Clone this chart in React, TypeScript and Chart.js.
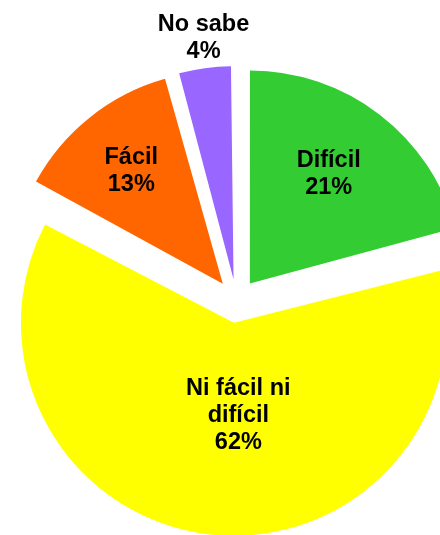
import React, { useEffect, useRef } from "react";
import { Chart, registerables } from "chart.js";

Chart.register(...registerables);

const categories = ["Difícil", "Ni fácil ni difícil", "Fácil", "No sabe"];
const labelLines = [["Difícil"], ["Ni fácil ni", "difícil"], ["Fácil"], ["No sabe"]];
// slice sizes (shares of the circle, %)
const sliceValues = [20.8, 62.1, 12.8, 4.3];
// percentages printed on the chart
const percentLabels = ["21%", "62%", "13%", "4%"];
const colors = ["#33CC33", "#FFFF00", "#FF6600", "#9966FF"];

const FONT_FAMILY = '"Liberation Sans", Arial, Helvetica, sans-serif';

// Keep every exploded slice at the same radius (Chart.js enlarges wide slices by their offset)
const equalRadiusPlugin = {
  id: "equalRadius",
  beforeDatasetsDraw(chart: any) {
    const meta = chart.getDatasetMeta(0);
    const base = meta.controller.outerRadius;
    meta.data.forEach((arc: any) => {
      const off = (arc.options.offset || 0) / 4;
      const c = arc.circumference;
      const fix = 1 - Math.sin(Math.min(Math.PI, c || 0));
      arc.outerRadius = base - off * fix;
    });
  },
};

const sliceLabelPlugin = {
  id: "sliceLabels",
  afterDatasetsDraw(chart: any, _args: any, opts: any) {
    const ctx = chart.ctx;
    const meta = chart.getDatasetMeta(0);
    const R = meta.controller.outerRadius;
    ctx.save();
    ctx.font = `bold ${opts.size}px ${FONT_FAMILY}`;
    ctx.fillStyle = "#000000";
    ctx.textAlign = "center";
    ctx.textBaseline = "alphabetic";
    meta.data.forEach((arc: any, i: number) => {
      const mid = (arc.startAngle + arc.endAngle) / 2;
      const off = (arc.options.offset || 0) / 4;
      const p = opts.placement[i];
      const d = off + R * p.r;
      const cx = arc.x + Math.cos(mid) * d + p.dx;
      const cy = arc.y + Math.sin(mid) * d + p.dy;
      const lines = [...labelLines[i], percentLabels[i]];
      const capH = opts.size * 0.716;
      const first = cy - ((lines.length - 1) * opts.lineHeight) / 2 + capH / 2;
      lines.forEach((t: string, k: number) => {
        ctx.fillText(t, cx, first + k * opts.lineHeight);
      });
    });
    ctx.restore();
  },
};

export default function App() {
  const canvasRef = useRef<HTMLCanvasElement | null>(null);

  useEffect(() => {
    const canvas = canvasRef.current;
    if (!canvas) return;
    const chart = new Chart(canvas, {
      type: "pie",
      data: {
        labels: categories,
        datasets: [
          {
            data: sliceValues,
            backgroundColor: colors,
            borderWidth: 0,
            offset: 88,
          },
        ],
      },
      options: {
        responsive: false,
        animation: false,
        events: [],
        radius: 213,
        layout: { padding: { left: 33, right: 0, top: 67, bottom: 0 } },
        plugins: {
          legend: { display: false },
          title: { display: false },
          tooltip: { enabled: false },
          sliceLabels: {
            size: 23.5,
            lineHeight: 27,
            placement: [
              { r: 0.64, dx: -4, dy: -3 },
              { r: 0.43, dx: 15, dy: 0 },
              { r: 0.69, dx: 0, dy: 0 },
              { r: 1.15, dx: 3, dy: 0 },
            ],
          },
        } as any,
      },
      plugins: [equalRadiusPlugin, sliceLabelPlugin],
    });
    return () => chart.destroy();
  }, []);

  return (
    <div
      style={{
        position: "fixed",
        left: 0,
        top: 0,
        width: 440,
        height: 535,
        background: "#ffffff",
        overflow: "hidden",
      }}
    >
      <canvas ref={canvasRef} width={440} height={535} style={{ display: "block" }} />
    </div>
  );
}
